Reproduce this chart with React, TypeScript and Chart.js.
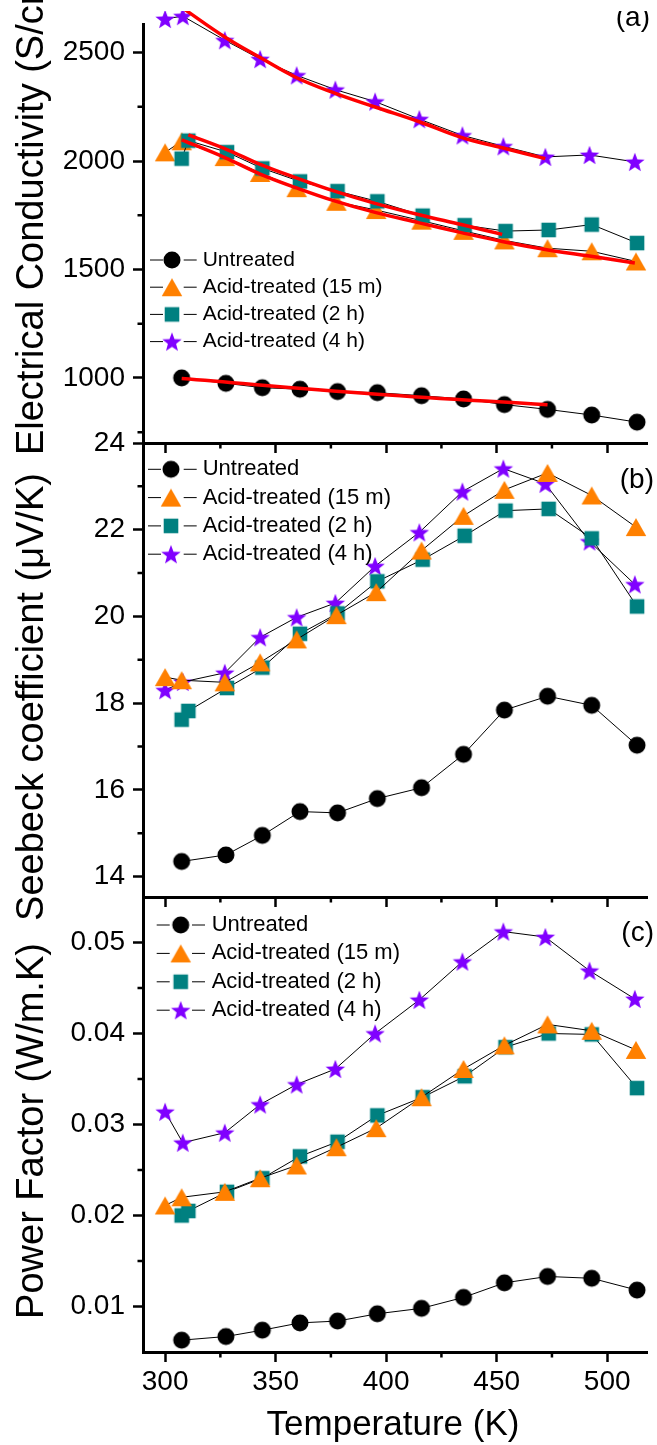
import React, { useEffect, useRef } from 'react';
import { Chart, registerables } from 'chart.js';

Chart.register(...registerables);

const FONT = '"Liberation Sans", Arial, Helvetica, sans-serif';

// ---------- data ----------
const X_TICKS = [300, 350, 400, 450, 500];
const X_TICKS_MINOR = [325, 375, 425, 475];
const SIGMA_TICKS = [1000, 1500, 2000, 2500];
const SIGMA_TICKS_MINOR = [750, 1250, 1750, 2250];
const S_TICKS = [14, 16, 18, 20, 22, 24];
const S_TICKS_MINOR = [15, 17, 19, 21, 23];
const PF_TICKS = [0.01, 0.02, 0.03, 0.04, 0.05];
const PF_TICKS_MINOR = [0.015, 0.025, 0.035, 0.045];
const SERIES_LABELS = ['Untreated', 'Acid-treated (15 m)', 'Acid-treated (2 h)', 'Acid-treated (4 h)'];

// temperatures (K)
const T_UNTREATED = [307.5, 327.5, 344, 361, 378, 396, 416, 435, 453.5, 473, 493, 513.5];
const T_15M = [300, 307.5, 327, 343, 359.5, 377.5, 395.5, 416, 435, 453.5, 473, 493, 513];
const T_2H = [307.5, 310.5, 328, 344, 361, 378, 396, 416.5, 435.5, 454, 473.5, 493, 513.5];
const T_4H = [300, 308, 327, 343, 359.5, 377, 395, 415, 434.5, 453, 472, 492, 512.5];

// (a) electrical conductivity (S/cm)
const SIGMA_UNTREATED = [1000, 975, 955, 948, 937, 932, 918, 903, 877, 855, 829, 796];
const SIGMA_15M = [2040, 2091, 2018, 1945, 1875, 1812, 1774, 1725, 1678, 1634, 1598, 1584, 1537];
const SIGMA_2H = [2011, 2094, 2041, 1966, 1906, 1861, 1814, 1748, 1704, 1677, 1682, 1707, 1622];
const SIGMA_4H = [2655, 2668, 2557, 2470, 2395, 2329, 2274, 2193, 2118, 2068, 2019, 2028, 1996];

// (a) fitted curves (red)
const FIT_T_UNTREATED = [307.5, 396, 473];
const FIT_UNTREATED = [997, 925, 876];
const FIT_T_15M = [307.5, 327, 343, 359.5, 377, 395, 415, 434, 452.5, 472, 492, 512.5];
const FIT_15M = [2098, 2016, 1940, 1876, 1815, 1763, 1715, 1670, 1629, 1592, 1562, 1530];
const FIT_T_2H = [310.5, 328, 343, 360, 377, 395, 415, 434, 452.5];
const FIT_2H = [2121, 2053, 1985, 1920, 1860, 1805, 1752, 1707, 1662];
const FIT_T_4H = [308, 327, 343, 359.5, 377, 395, 415, 434, 452.5, 472];
const FIT_4H = [2705, 2572, 2477, 2384, 2312, 2249, 2181, 2109, 2061, 2011];

// (b) Seebeck coefficient (µV/K)
const S_UNTREATED = [14.35, 14.5, 14.95, 15.5, 15.47, 15.8, 16.05, 16.82, 17.84, 18.16, 17.95, 17.03];
const S_15M = [18.6, 18.53, 18.48, 18.94, 19.47, 20.03, 20.56, 21.52, 22.32, 22.92, 23.31, 22.79, 22.06];
const S_2H = [17.62, 17.82, 18.35, 18.82, 19.6, 20.07, 20.81, 21.31, 21.86, 22.44, 22.48, 21.8, 20.23];
const S_4H = [18.3, 18.49, 18.7, 19.52, 19.98, 20.31, 21.16, 21.94, 22.88, 23.41, 23.06, 21.73, 20.74];

// (c) power factor (W/m.K)
const PF_UNTREATED = [0.0063, 0.0067, 0.0074, 0.0082, 0.0084, 0.0092, 0.0098, 0.011, 0.0126, 0.0133, 0.0131, 0.0118];
const PF_15M = [0.0211, 0.022, 0.0226, 0.0241, 0.0255, 0.0275, 0.0296, 0.033, 0.0361, 0.0387, 0.041, 0.0403, 0.0382];
const PF_2H = [0.02, 0.0205, 0.0226, 0.0241, 0.0265, 0.0281, 0.031, 0.033, 0.0353, 0.0385, 0.04, 0.0399, 0.034];
const PF_4H = [0.0314, 0.028, 0.0291, 0.0322, 0.0344, 0.0361, 0.04, 0.0437, 0.0479, 0.0512, 0.0506, 0.0469, 0.0438];

// ---------- styling ----------
const C_UNTREATED = '#000000';
const C_15M = '#FF8000';
const C_2H = '#008080';
const C_4H = '#8000FF';
const C_FIT = '#FF0000';

const W = 657;
const H = 1445;

function makeMarker(shape: string, color: string): HTMLCanvasElement {
  const s = 24;
  const c = document.createElement('canvas');
  c.width = s;
  c.height = s;
  const g = c.getContext('2d')!;
  const cx = s / 2;
  const cy = s / 2;
  g.fillStyle = color;
  g.beginPath();
  if (shape === 'circle') {
    g.arc(cx, cy, 8.5, 0, Math.PI * 2);
  } else if (shape === 'triangle') {
    const w = 20.5;
    const h = 17.8;
    g.moveTo(cx, cy - h / 2);
    g.lineTo(cx + w / 2, cy + h / 2);
    g.lineTo(cx - w / 2, cy + h / 2);
    g.closePath();
  } else if (shape === 'square') {
    g.rect(cx - 7.3, cy - 7.3, 14.6, 14.6);
  } else {
    const R = 10.2;
    const r = 4.3;
    const oy = cy + 0.95;
    for (let i = 0; i < 10; i++) {
      const a = -Math.PI / 2 + (i * Math.PI) / 5;
      const rad = i % 2 === 0 ? R : r;
      const px = cx + rad * Math.cos(a);
      const py = oy + rad * Math.sin(a);
      if (i === 0) g.moveTo(px, py);
      else g.lineTo(px, py);
    }
    g.closePath();
  }
  g.fill();
  return c;
}

function pts(xs: number[], ys: number[]) {
  return ys.map((y, i) => ({ x: xs[i], y }));
}

type Panel = {
  top: number;
  bottom: number;
  yMin: number;
  yMax: number;
  yTicks: number[];
  yMinor: number[];
  showX: boolean;
  yTitle: string;
  yTitleY: number;
  label: string;
  labelX: number;
  labelY: number;
  legend: { y0: number; dy: number; x0: number; x1: number; mx: number; tx: number; font: number };
  mask: boolean;
  xTitle: boolean;
  series: { xs: number[]; ys: number[] }[];
  fits: { xs: number[]; ys: number[] }[];
  seriesOrder: number[];
};

function buildConfig(p: Panel, markers: HTMLCanvasElement[]): any {
  const datasets: any[] = [];
  p.fits.forEach((f) => {
    datasets.push({
      data: pts(f.xs, f.ys),
      borderColor: C_FIT,
      borderWidth: 3.5,
      pointRadius: 0,
      tension: 0.4,
      fill: false,
      clip: false,
      order: 0,
    });
  });
  p.series.forEach((s, i) => {
    datasets.push({
      label: SERIES_LABELS[i],
      data: pts(s.xs, s.ys),
      borderColor: '#000',
      borderWidth: 1,
      pointStyle: markers[i],
      pointRadius: 10,
      pointBorderWidth: 0,
      tension: 0,
      fill: false,
      clip: false,
      order: p.seriesOrder[i],
    });
  });

  const xAxisH = p.showX ? 80 : 20;

  const decor = {
    id: 'decor',
    afterDatasetsDraw(chart: any) {
      const ctx = chart.ctx;
      ctx.save();
      ctx.fillStyle = '#000';
      ctx.font = `28px ${FONT}`;
      ctx.textAlign = 'right';
      ctx.textBaseline = 'alphabetic';
      ctx.fillText(p.label, p.labelX, p.labelY);
      if (p.mask) {
        ctx.fillStyle = '#fff';
        ctx.fillRect(146, 0, W, 11);
      }
      ctx.restore();
    },
    afterDraw(chart: any) {
      const ctx = chart.ctx;
      const area = chart.chartArea;
      const xs = chart.scales.x;
      const ys = chart.scales.y;
      ctx.save();
      // minor ticks
      ctx.strokeStyle = '#000';
      ctx.lineWidth = 2.5;
      ctx.beginPath();
      X_TICKS_MINOR.forEach((v) => {
        const px = xs.getPixelForValue(v);
        ctx.moveTo(px, area.bottom);
        ctx.lineTo(px, area.bottom + 5.5);
      });
      p.yMinor.forEach((v) => {
        const py = ys.getPixelForValue(v);
        ctx.moveTo(area.left, py);
        ctx.lineTo(area.left - 5.5, py);
      });
      ctx.stroke();

      // legend
      const lg = p.legend;
      ctx.font = `${lg.font}px ${FONT}`;
      ctx.textAlign = 'left';
      ctx.textBaseline = 'middle';
      SERIES_LABELS.forEach((lab, i) => {
        const y = lg.y0 + i * lg.dy;
        ctx.strokeStyle = '#000';
        ctx.lineWidth = 1;
        ctx.beginPath();
        ctx.moveTo(lg.x0, y);
        ctx.lineTo(lg.x0 + 13, y);
        ctx.moveTo(lg.x1 - 13, y);
        ctx.lineTo(lg.x1, y);
        ctx.stroke();
        const m = markers[i];
        ctx.drawImage(m, lg.mx - m.width / 2, y - m.height / 2);
        ctx.fillStyle = '#000';
        ctx.fillText(lab, lg.tx, y);
      });

      // y title
      ctx.save();
      ctx.font = `38px ${FONT}`;
      ctx.fillStyle = '#000';
      ctx.textAlign = 'center';
      ctx.textBaseline = 'alphabetic';
      ctx.translate(43, p.yTitleY);
      ctx.rotate(-Math.PI / 2);
      ctx.fillText(p.yTitle, 0, 0);
      ctx.restore();

      if (p.xTitle) {
        ctx.font = `35px ${FONT}`;
        ctx.fillStyle = '#000';
        ctx.textAlign = 'center';
        ctx.textBaseline = 'alphabetic';
        ctx.fillText('Temperature (K)', 393, 1435);
      }
      ctx.restore();
    },
  };

  const axisCommon = {
    grid: {
      display: true,
      drawOnChartArea: false,
      drawTicks: true,
      tickLength: 10,
      tickWidth: 2.5,
      tickColor: '#000',
    },
    border: { display: true, width: 3, color: '#000' },
  };

  return {
    type: 'line',
    data: { datasets },
    plugins: [decor],
    options: {
      responsive: false,
      maintainAspectRatio: false,
      animation: false,
      events: [],
      layout: { padding: { top: p.top, bottom: H - p.bottom - xAxisH, left: 0, right: 0 } },
      plugins: { legend: { display: false }, tooltip: { enabled: false }, title: { display: false } },
      scales: {
        x: {
          type: 'linear',
          min: 290,
          max: 518,
          afterFit: (s: any) => {
            s.height = xAxisH;
          },
          afterBuildTicks: (s: any) => {
            s.ticks = X_TICKS.map((v) => ({ value: v }));
          },
          ticks: {
            display: p.showX,
            autoSkip: false,
            maxRotation: 0,
            padding: 3,
            color: '#000',
            font: { family: FONT, size: 28 },
            callback: (v: any) => String(v),
          },
          ...axisCommon,
        },
        y: {
          type: 'linear',
          min: p.yMin,
          max: p.yMax,
          afterFit: (s: any) => {
            s.width = 143;
          },
          afterBuildTicks: (s: any) => {
            s.ticks = p.yTicks.map((v) => ({ value: v }));
          },
          ticks: {
            autoSkip: false,
            padding: 8,
            color: '#000',
            font: { family: FONT, size: 28 },
            callback: (v: any) => String(v),
          },
          ...axisCommon,
        },
      },
    },
  };
}

export default function App() {
  const ra = useRef<HTMLCanvasElement>(null);
  const rb = useRef<HTMLCanvasElement>(null);
  const rc = useRef<HTMLCanvasElement>(null);

  useEffect(() => {
    const markers = [
      makeMarker('circle', C_UNTREATED),
      makeMarker('triangle', C_15M),
      makeMarker('square', C_2H),
      makeMarker('star', C_4H),
    ];
    const panelA: Panel = {
      top: 16,
      bottom: 443,
      yMin: 700,
      yMax: 2628,
      yTicks: SIGMA_TICKS,
      yMinor: SIGMA_TICKS_MINOR,
      showX: false,
      yTitle: 'Electrical Conductivity (S/cm)',
      yTitleY: 208,
      label: '(a)',
      labelX: 650,
      labelY: 26,
      legend: { y0: 260, dy: 27.2, x0: 150, x1: 196.7, mx: 172, tx: 202.7, font: 21 },
      mask: true,
      xTitle: false,
      series: [
        { xs: T_UNTREATED, ys: SIGMA_UNTREATED },
        { xs: T_15M, ys: SIGMA_15M },
        { xs: T_2H, ys: SIGMA_2H },
        { xs: T_4H, ys: SIGMA_4H },
      ],
      fits: [
        { xs: FIT_T_UNTREATED, ys: FIT_UNTREATED },
        { xs: FIT_T_15M, ys: FIT_15M },
        { xs: FIT_T_2H, ys: FIT_2H },
        { xs: FIT_T_4H, ys: FIT_4H },
      ],
      seriesOrder: [4, 2, 1, 3],
    };
    const panelB: Panel = {
      top: 443,
      bottom: 897,
      yMin: 13.53,
      yMax: 24,
      yTicks: S_TICKS,
      yMinor: S_TICKS_MINOR,
      showX: false,
      yTitle: 'Seebeck coefficient (μV/K)',
      yTitleY: 697,
      label: '(b)',
      labelX: 654,
      labelY: 487.5,
      legend: { y0: 469.3, dy: 28.3, x0: 148, x1: 196.7, mx: 171, tx: 202.7, font: 22 },
      mask: false,
      xTitle: false,
      series: [
        { xs: T_UNTREATED, ys: S_UNTREATED },
        { xs: T_15M, ys: S_15M },
        { xs: T_2H, ys: S_2H },
        { xs: T_4H, ys: S_4H },
      ],
      fits: [],
      seriesOrder: [4, 1, 2, 3],
    };
    const panelC: Panel = {
      top: 897,
      bottom: 1352,
      yMin: 0.005,
      yMax: 0.055,
      yTicks: PF_TICKS,
      yMinor: PF_TICKS_MINOR,
      showX: true,
      yTitle: 'Power Factor (W/m.K)',
      yTitleY: 1131,
      label: '(c)',
      labelX: 654,
      labelY: 941,
      legend: { y0: 925, dy: 28.4, x0: 156.7, x1: 205, mx: 180.7, tx: 211.7, font: 22 },
      mask: false,
      xTitle: true,
      series: [
        { xs: T_UNTREATED, ys: PF_UNTREATED },
        { xs: T_15M, ys: PF_15M },
        { xs: T_2H, ys: PF_2H },
        { xs: T_4H, ys: PF_4H },
      ],
      fits: [],
      seriesOrder: [4, 1, 2, 3],
    };
    const charts = [
      new Chart(ra.current!, buildConfig(panelA, markers)),
      new Chart(rb.current!, buildConfig(panelB, markers)),
      new Chart(rc.current!, buildConfig(panelC, markers)),
    ];
    return () => charts.forEach((c) => c.destroy());
  }, []);

  const cs: React.CSSProperties = { position: 'absolute', left: 0, top: 0, width: W, height: H };
  return (
    <div style={{ position: 'absolute', left: 0, top: 0, width: W, height: H, background: '#fff', overflow: 'hidden' }}>
      <canvas ref={ra} width={W} height={H} style={cs} />
      <canvas ref={rb} width={W} height={H} style={cs} />
      <canvas ref={rc} width={W} height={H} style={cs} />
    </div>
  );
}
